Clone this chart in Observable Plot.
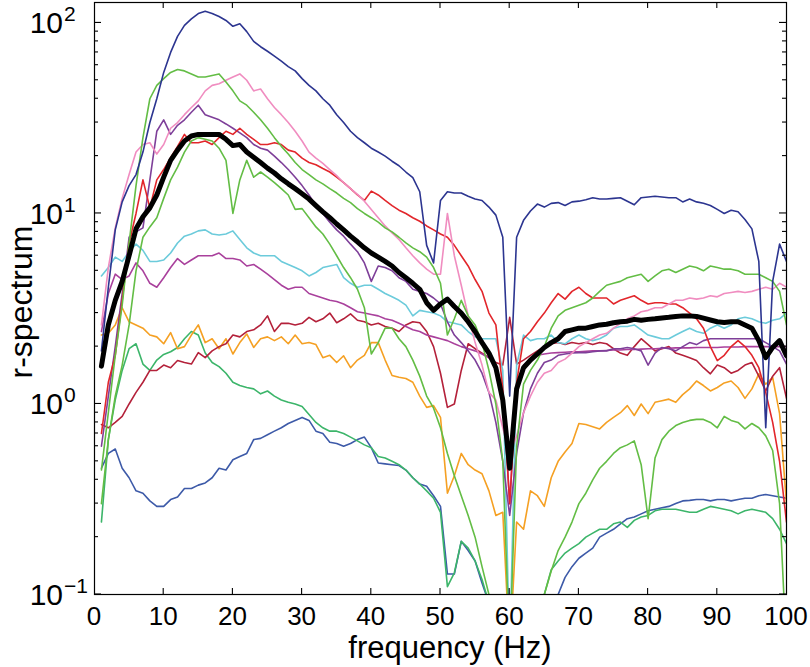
<!DOCTYPE html>
<html><head><meta charset="utf-8">
<script src="https://cdn.jsdelivr.net/npm/d3@7"></script>
<script src="https://cdn.jsdelivr.net/npm/@observablehq/plot@0.6"></script>
<style>body{margin:0;background:#fff} svg{display:block}</style>
</head><body><div id="chart"></div>
<script>
const freq = d3.range(1, 101);
const xTicks = [0, 10, 20, 30, 40, 50, 60, 70, 80, 90, 100];
const yTicks = [0.1, 1, 10, 100];
const yTickExp = ["\u22121", "0", "1", "2"];
const xTitle = "frequency (Hz)";
const yTitle = "r-spectrum";

const navy = [1.9,4.1,8.2,11.5,14,16,21,30,40,55, 70,85,97,105,112,115,112,108,103,96, 99,90,80,75,71,67,63,59,56,51, 47,44,40,37,33,30,27,25,23.5,22, 21,20,18.8,17.8,16.5,15.4,13,6.8,5.5,11.7, 13,12.8,12.8,12.3,11.9,11.7,10.8,9.8,7.5,1.1, 7.5,9.2,10.3,11.2,10.8,11.3,11.4,11,11.5,11.6, 11.8,12.1,11.9,11.9,12,12.1,11.6,11.1,12.1,12.2, 12.3,12.2,12.1,12.1,11.5,11.9,11.5,11.3,11,10.5, 10,10.4,10.2,9.3,8.3,5.6,0.75,4.4,6.9,5.6];
const greenA = [0.45,0.9,1.8,3.3,7,14,25,40,47,51, 55,57,56,54,52,52,53,54,49,44, 39,37,34,31,28,25,22.5,20.5,18.5,17, 16,15,14.3,13.5,12.8,12,11.4,10.6,10,9.5, 9,8.4,8,7.5,7,6.6,6.3,5.9,5.2,4.3, 2.3,2.8,3.5,2.9,2.6,2.1,1.5,1.0,0.5,0.05, 0.6,1.27,1.5,1.7,2.0,2.5,2.9,3.1,3.2,3.3, 3.4,3.6,3.9,4.2,4.3,4.4,4.6,4.7,4.8,4.4, 4.7,5.0,5.1,4.9,5.1,5.3,5.2,5.0,5.3,5.2, 5.1,5.1,5.0,4.8,4.8,4.8,4.6,4.4,3.9,2.6];
const greenB = [0.3,0.65,1.1,1.6,2.6,5,7.5,8.5,9.5,12, 15,17.5,21,24,25,24.5,24,22,19,10, 15,19,15.5,16.5,15.5,14.5,13.5,12.5,10.5,10.6, 9.5,8.5,7.8,6.9,6.0,5.2,4.6,4.0,3.2,1.83, 2.1,2.5,2.5,2.2,2.0,1.7,1.4,1.1,0.95,0.75, 0.55,0.42,0.33,0.26,0.2,0.14,0.1,0.08,0.06,0.05, 0.05,0.05,0.06,0.07,0.1,0.133,0.17,0.2,0.24,0.3, 0.34,0.4,0.46,0.5,0.55,0.59,0.61,0.64,0.48,0.25, 0.52,0.65,0.72,0.77,0.8,0.82,0.83,0.83,0.8,0.75, 0.86,0.82,0.8,0.74,0.79,0.75,0.68,0.57,0.3,0.05];
const pink = [2.6,5.2,8.4,12,16,21,23,23.5,20.5,23, 28,30,33,36,39,44,47,48,50,52, 54,50,44,45,40,36,33,30,27,24, 21,19.5,18.3,17,15.8,14.5,13.5,12.6,11.6,10.5, 9.5,8.6,7.9,7.3,6.6,6.0,5.5,5.1,4.8,4.8, 10,6,4.2,2.9,2.1,1.6,1.15,1.05,0.75,0.55, 0.68,0.9,1.1,1.3,1.45,1.5,1.65,1.72,1.85,2.0, 2.1,2.2,2.3,2.35,2.5,2.65,2.8,2.9,3.05,3.1, 3.2,3.2,3.35,3.5,3.5,3.6,3.55,3.6,3.7,3.65, 3.8,3.85,3.9,3.85,3.9,4.0,4.1,4.0,4.3,4.1];
const purple = [0.6,1.1,2.0,3.8,7.5,8.0,8.4,15,27,31, 26,29,31,34,37,33,32,31,29.5,28, 26.5,25,23,22,21.5,20,18.5,17,15.5,14, 12.5,11,10,9,8.2,7.6,6.9,6.3,5.5,4.4, 5.3,5.2,5.0,4.6,4.4,4.0,3.9,3.8,3.6,3.35, 2.7,2.3,2.1,1.9,1.7,1.45,1.15,0.8,0.5,0.26, 0.55,0.9,1.2,1.45,1.65,1.7,1.8,1.83,1.85,1.86, 1.86,1.88,1.9,1.9,1.95,1.95,1.98,1.95,1.9,1.6, 1.85,1.98,1.95,1.9,2.0,2.1,2.05,2.15,2.2,2.2, 2.2,2.2,2.2,2.2,2.2,2.2,2.1,2.0,1.9,1.62];
const magenta = [2.4,3.8,4.8,4.5,4.7,5.5,5.0,4.3,4.1,4.6, 5.2,5.8,5.4,5.7,6.0,6.0,6.0,6.2,5.8,5.8, 5.7,5.3,5.4,5.1,4.8,4.5,4.2,4.0,4.1,4.1, 3.8,3.7,3.6,3.5,3.45,3.35,3.2,3.05,3.0,2.95, 2.9,2.8,2.75,2.65,2.55,2.45,2.4,2.3,2.25,2.2, 2.15,2.07,2.0,1.95,1.9,1.83,1.75,1.6,1.2,0.3, 1.2,1.6,1.72,1.8,1.83,1.85,1.86,1.87,1.88,1.88, 1.89,1.9,1.9,1.91,1.92,1.92,1.93,1.93,1.94,1.95, 1.95,1.96,1.96,1.97,1.97,1.97,1.98,1.98,1.98,1.98, 1.99,1.99,1.99,2.0,2.0,2.0,2.0,2.0,2.0,2.0];
const cyan = [4.7,5.2,5.9,5.6,6.3,6.9,6.4,5.6,5.6,5.7, 6.2,7.0,7.6,7.8,8.1,8.2,7.8,7.7,7.8,8.1, 7.3,6.6,6.2,6.0,6.0,6.0,5.6,5.4,5.2,5.0, 4.7,4.9,5.2,5.3,5.4,4.6,4.3,4.1,4.2,4.2, 4.0,3.8,3.65,3.5,3.3,2.9,3.1,3.05,3.0,2.9, 2.7,2.65,2.6,2.4,2.25,2.2,2.2,2.2,1.5,0.05, 1.6,2.3,2.15,2.2,2.2,2.3,2.1,2.07,2.2,2.3, 2.2,2.15,2.2,2.3,2.5,2.55,2.55,2.6,2.45,2.3, 2.25,2.2,2.2,2.3,2.4,2.5,2.4,2.35,2.5,2.6, 2.5,2.6,2.8,2.85,2.8,2.7,2.65,2.75,2.8,3.0];
const red = [0.7,1.3,1.8,3.5,7,10,15,10.7,15,17, 19.6,22.5,26,23.5,23.5,24,23,25,27,26, 28,26,24.5,23,23,23.5,23,21.5,21,19.5, 18.5,18,17.2,16.5,15.5,14.5,13.5,12.5,11.7,13.1, 12.5,11.7,11,10.4,10,9.5,9.1,8.6,8.2,7.8, 7.5,6.8,6.0,5.3,4.5,3.9,3.0,2.6,1.2,0.3, 1.3,2.2,2.4,2.7,3.0,3.4,3.8,3.55,3.9,4.1, 3.8,3.6,3.6,3.6,3.35,3.5,3.6,3.7,3.5,3.35, 3.4,3.4,3.35,3.35,3.2,3.0,2.8,2.5,2.0,1.69, 1.8,2.0,2.15,2.0,1.8,1.55,1.15,0.8,0.5,0.24];
const darkRed = [0.78,0.75,0.8,0.86,1.0,1.15,1.3,1.5,1.5,1.6, 1.55,1.69,1.65,1.62,1.86,1.75,1.9,2.0,2.07,2.3, 2.25,2.4,2.45,2.6,2.9,2.4,2.65,2.65,2.6,2.65, 2.85,2.7,2.8,3.0,2.67,2.8,2.97,2.75,2.7,2.6, 2.65,2.55,2.5,2.4,2.6,2.7,2.67,2.4,2.0,1.45, 0.96,1.0,1.5,2.07,1.95,1.85,1.75,1.65,1.6,2.85, 1.62,1.7,1.8,1.9,2.0,2.07,2.1,2.05,2.1,2.07, 2.1,2.05,2.1,2.07,1.95,1.85,1.8,2.0,2.2,2.05, 1.9,1.95,2.0,1.85,1.8,1.75,1.69,1.55,1.44,1.6, 1.55,1.45,1.5,1.6,1.65,1.4,1.17,1.4,1.55,1.07];
const orange = [2.3,2.35,2.6,3.2,2.7,2.6,2.5,2.3,2.25,2.07, 2.37,1.95,2.0,2.3,2.6,2.1,2.2,1.95,2.2,1.83, 2.1,2.33,1.98,2.2,2.25,2.15,2.25,2.07,2.3,2.07, 2.1,2.05,1.75,1.8,1.65,1.79,1.55,1.7,1.8,2.1, 2.1,1.7,1.41,1.38,1.36,1.3,1.1,0.96,0.98,0.85, 0.34,0.42,0.55,0.48,0.45,0.43,0.35,0.26,0.27,0.05, 0.24,0.22,0.35,0.33,0.29,0.41,0.5,0.56,0.62,0.79, 0.78,0.76,0.74,0.8,0.85,0.9,0.98,0.87,1.0,0.89, 1.02,1.04,1.06,1.02,1.12,1.2,1.32,1.25,1.17,1.22, 1.29,1.32,1.22,1.07,1.2,1.44,1.27,1.38,0.89,0.3];
const teal = [0.24,0.65,1.05,1.5,1.95,2.07,1.62,1.5,1.7,1.82, 1.88,1.98,2.2,2.4,2.3,1.85,1.65,1.57,1.45,1.3, 1.25,1.22,1.2,1.13,1.17,1.1,1.05,1.02,1.0,0.97, 0.88,0.8,0.75,0.72,0.72,0.7,0.67,0.64,0.61,0.59, 0.53,0.52,0.5,0.48,0.45,0.41,0.38,0.35,0.32,0.27, 0.11,0.13,0.19,0.175,0.15,0.12,0.09,0.07,0.06,0.05, 0.05,0.05,0.06,0.08,0.1,0.135,0.15,0.165,0.175,0.185, 0.2,0.21,0.22,0.22,0.235,0.24,0.225,0.245,0.255,0.26, 0.275,0.28,0.28,0.28,0.275,0.27,0.27,0.28,0.29,0.285, 0.28,0.275,0.265,0.275,0.28,0.275,0.27,0.25,0.22,0.185];
const blue = [0.46,0.55,0.58,0.46,0.41,0.35,0.34,0.31,0.29,0.29, 0.315,0.325,0.36,0.36,0.375,0.385,0.41,0.46,0.45,0.51, 0.53,0.55,0.65,0.66,0.69,0.72,0.75,0.79,0.82,0.85, 0.82,0.72,0.7,0.63,0.62,0.6,0.62,0.65,0.67,0.59, 0.49,0.485,0.48,0.475,0.45,0.41,0.38,0.37,0.33,0.29, 0.128,0.128,0.19,0.17,0.15,0.115,0.09,0.07,0.06,0.05, 0.05,0.05,0.05,0.06,0.07,0.085,0.1,0.123,0.14,0.155, 0.165,0.175,0.2,0.21,0.22,0.235,0.25,0.255,0.265,0.275, 0.28,0.285,0.29,0.3,0.31,0.312,0.315,0.315,0.31,0.315, 0.315,0.31,0.315,0.32,0.32,0.33,0.335,0.33,0.325,0.32];
const mean = [1.58,2.6,3.5,4.4,6.0,8.3,9.6,10.7,12.5,15.5, 19,21.5,24,25.5,26,26,26,26,24.5,22.7, 23,21,19.7,18.5,17.3,16.3,15.2,14.3,13.5,12.7, 11.9,11.0,10.2,9.5,8.8,8.2,7.6,7.1,6.6,6.2, 5.9,5.6,5.3,4.9,4.6,4.3,4.0,3.4,3.1,3.35, 3.55,3.25,3.0,2.7,2.4,2.1,1.85,1.55,1.05,0.46, 1.2,1.55,1.7,1.83,1.98,2.1,2.2,2.4,2.45,2.5, 2.5,2.55,2.6,2.62,2.67,2.7,2.72,2.78,2.75,2.78, 2.8,2.83,2.85,2.88,2.9,2.9,2.88,2.82,2.76,2.7, 2.68,2.7,2.7,2.6,2.5,2.15,1.75,1.98,2.15,1.79];

const series = [
  {values: blue, color: "#3d5aa8", w: 1.6},
  {values: teal, color: "#3cb56a", w: 1.6},
  {values: orange, color: "#f5a023", w: 1.6},
  {values: darkRed, color: "#b4213a", w: 1.6},
  {values: magenta, color: "#a9409c", w: 1.6},
  {values: cyan, color: "#6ccbdb", w: 1.6},
  {values: purple, color: "#7e3f99", w: 1.6},
  {values: red, color: "#e2262b", w: 1.6},
  {values: greenB, color: "#63bd45", w: 1.6},
  {values: pink, color: "#f08dc0", w: 1.6},
  {values: greenA, color: "#63bd45", w: 1.6},
  {values: navy, color: "#2c3590", w: 1.6},
  {values: mean, color: "#000000", w: 5}
];

const font = "'Liberation Sans', Arial, Helvetica, sans-serif";
const chart = Plot.plot({
  width: 810, height: 667,
  marginLeft: 94, marginRight: 24, marginTop: 2, marginBottom: 73,
  style: {fontFamily: font, background: "#fff", overflow: "visible"},
  x: {domain: [0, 100], axis: null},
  y: {type: "log", domain: [0.1, 128], axis: null},
  marks: [
    ...series.map(s => Plot.line(s.values, {x: (d, i) => freq[i], y: d => d, stroke: s.color, strokeWidth: s.w, strokeLinejoin: "round", clip: true})),
    Plot.frame({stroke: "#000", strokeWidth: 1.2})
  ]
});

const xs = chart.scale("x"), ys = chart.scale("y");
const svg = d3.select(chart);
const g = svg.append("g").attr("stroke", "#000").attr("stroke-width", 1.1);
const L = 94, R = 786, T = 2, B = 594;
xTicks.slice(1, -1).forEach(v => {
  const x = xs.apply(v);
  g.append("line").attr("x1", x).attr("x2", x).attr("y1", B).attr("y2", B - 6);
  g.append("line").attr("x1", x).attr("x2", x).attr("y1", T).attr("y2", T + 6);
});
yTicks.forEach(v => {
  const y = ys.apply(v);
  g.append("line").attr("x1", L).attr("x2", L + 7).attr("y1", y).attr("y2", y);
  g.append("line").attr("x1", R).attr("x2", R - 7).attr("y1", y).attr("y2", y);
});
[0.1, 1, 10].forEach(d => d3.range(2, 10).forEach(m => {
  const v = d * m; if (v > 128) return;
  const y = ys.apply(v);
  g.append("line").attr("x1", L).attr("x2", L + 4).attr("y1", y).attr("y2", y);
  g.append("line").attr("x1", R).attr("x2", R - 4).attr("y1", y).attr("y2", y);
}));

const t = svg.append("g").attr("font-family", font).attr("fill", "#000");
xTicks.forEach(v => {
  t.append("text").attr("x", xs.apply(v)).attr("y", 625).attr("text-anchor", "middle").attr("font-size", 26).text(String(v));
});
yTicks.forEach((v, i) => {
  const y = ys.apply(v);
  t.append("text").attr("x", 63).attr("y", y + 11).attr("text-anchor", "end").attr("font-size", 30).text("10");
  t.append("text").attr("x", 64).attr("y", y - 1).attr("text-anchor", "start").attr("font-size", 21).text(yTickExp[i]);
});
t.append("text").attr("x", 450).attr("y", 658).attr("text-anchor", "middle").attr("font-size", 31).text(xTitle);
t.append("text").attr("transform", "translate(32,302) rotate(-90)").attr("text-anchor", "middle").attr("font-size", 32).text(yTitle);

document.getElementById("chart").appendChild(chart);
</script>
</body></html>
